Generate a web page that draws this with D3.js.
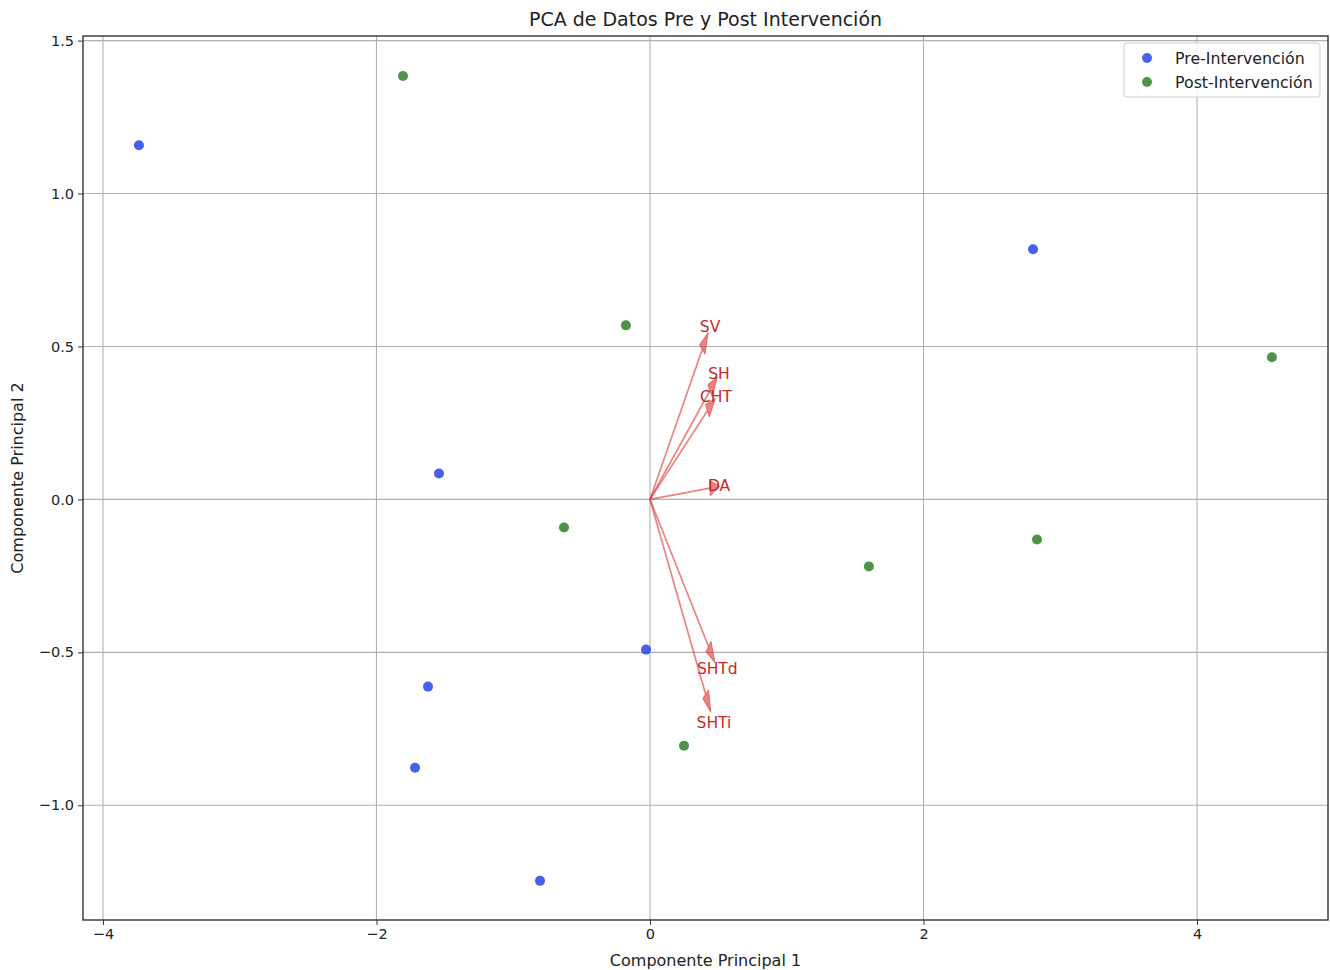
<!DOCTYPE html>
<html>
<head>
<meta charset="utf-8">
<script src="https://cdn.jsdelivr.net/npm/d3@7"></script>
<style>
  body { margin: 0; background: #fff; }
  svg { display: block; font-family: "DejaVu Sans", sans-serif; }
</style>
</head>
<body>
<svg id="chart" width="1330" height="970"></svg>
<script>
// ---- data ----
const preX = [-3.737, -1.543, -1.623, -1.718, -0.804, -0.029, 2.801];
const preY = [1.158, 0.085, -0.612, -0.877, -1.247, -0.491, 0.818];
const postX = [-1.806, -0.176, -0.629, 0.249, 1.601, 2.830, 4.548];
const postY = [1.384, 0.569, -0.092, -0.805, -0.219, -0.131, 0.465];
const loadingNames = ["SV", "SH", "CHT", "DA", "SHTd", "SHTi"];
const loadingX = [0.382, 0.439, 0.420, 0.439, 0.428, 0.407];
const loadingY = [0.490, 0.356, 0.290, 0.037, -0.481, -0.637];
const xTicks = [-4, -2, 0, 2, 4];
const yTicks = [-1.0, -0.5, 0.0, 0.5, 1.0, 1.5];
const legendLabels = ["Pre-Intervención", "Post-Intervención"];

// ---- layout ----
const L = 83, R = 1328, T = 36, B = 920;
const svg = d3.select("#chart");
const x = d3.scaleLinear().domain([-4.146, 4.958]).range([L, R]);
const y = d3.scaleLinear().domain([-1.375, 1.515]).range([B, T]);
const fmtMinus = s => s.replace("-", "\u2212");

// grid
const g = svg.append("g");
g.selectAll("line.gx").data(xTicks).enter().append("line")
  .attr("x1", d => x(d)).attr("x2", d => x(d)).attr("y1", T).attr("y2", B)
  .attr("stroke", "#b0b0b0").attr("stroke-width", 1.1);
g.selectAll("line.gy").data(yTicks).enter().append("line")
  .attr("y1", d => y(d)).attr("y2", d => y(d)).attr("x1", L).attr("x2", R)
  .attr("stroke", "#b0b0b0").attr("stroke-width", 1.1);

// axes
const xAxis = d3.axisBottom(x).tickValues(xTicks).tickSize(5).tickPadding(4)
  .tickFormat(d => fmtMinus(d3.format("d")(d)));
const yAxis = d3.axisLeft(y).tickValues(yTicks).tickSize(5).tickPadding(4)
  .tickFormat(d => fmtMinus(d3.format(".1f")(d)));
const gx = svg.append("g").attr("transform", `translate(0,${B})`).call(xAxis);
const gy = svg.append("g").attr("transform", `translate(${L},0)`).call(yAxis);
[gx, gy].forEach(a => {
  a.select(".domain").remove();
  a.selectAll("text").attr("font-size", 14.5).attr("fill", "#222").attr("font-family", "DejaVu Sans, sans-serif");
  a.selectAll("line").attr("stroke", "#333");
});

// points
const pre = preX.map((v, i) => ({x: v, y: preY[i]}));
const post = postX.map((v, i) => ({x: v, y: postY[i]}));
svg.append("g").selectAll("circle").data(pre).enter().append("circle")
  .attr("cx", d => x(d.x)).attr("cy", d => y(d.y)).attr("r", 5)
  .attr("fill", "#1a3ee8").attr("fill-opacity", 0.82);
svg.append("g").selectAll("circle").data(post).enter().append("circle")
  .attr("cx", d => x(d.x)).attr("cy", d => y(d.y)).attr("r", 5)
  .attr("fill", "#1f7a1a").attr("fill-opacity", 0.8);

// loadings arrows (matplotlib-style, head sized in data units)
const headW = 0.05, headL = 0.07;
const ag = svg.append("g");
loadingNames.forEach((name, i) => {
  const cx = loadingX[i], cy = loadingY[i];
  const len = Math.hypot(cx, cy);
  const ux = cx / len, uy = cy / len;
  const px = -uy, py = ux;
  const tip = [cx + ux * headL, cy + uy * headL];
  const b1 = [cx + px * headW / 2, cy + py * headW / 2];
  const b2 = [cx - px * headW / 2, cy - py * headW / 2];
  ag.append("line")
    .attr("x1", x(0)).attr("y1", y(0)).attr("x2", x(cx)).attr("y2", y(cy))
    .attr("stroke", "#e03030").attr("stroke-opacity", 0.6).attr("stroke-width", 1.7);
  ag.append("path")
    .attr("d", d3.line()([[x(tip[0]), y(tip[1])], [x(b1[0]), y(b1[1])], [x(b2[0]), y(b2[1])]]) + "Z")
    .attr("fill", "#e03030").attr("fill-opacity", 0.6)
    .attr("stroke", "#e03030").attr("stroke-opacity", 0.6).attr("stroke-width", 1);
});
ag.selectAll("text").data(loadingNames).enter().append("text")
  .attr("x", (d, i) => x(loadingX[i] * 1.15))
  .attr("y", (d, i) => y(loadingY[i] * 1.15))
  .attr("text-anchor", "middle").attr("dominant-baseline", "central")
  .attr("font-size", 15.5).attr("fill", "#c42a2a")
  .text(d => d);

// frame
svg.append("rect").attr("x", L).attr("y", T).attr("width", R - L).attr("height", B - T)
  .attr("fill", "none").attr("stroke", "#333").attr("stroke-width", 1.4);

// titles
svg.append("text").attr("x", (L + R) / 2).attr("y", 19).attr("text-anchor", "middle")
  .attr("dominant-baseline", "central").attr("font-size", 19).attr("fill", "#222")
  .text("PCA de Datos Pre y Post Intervención");
svg.append("text").attr("x", (L + R) / 2).attr("y", 960).attr("text-anchor", "middle")
  .attr("dominant-baseline", "central").attr("font-size", 16).attr("fill", "#222")
  .text("Componente Principal 1");
svg.append("text").attr("transform", `translate(17,${(T + B) / 2}) rotate(-90)`)
  .attr("text-anchor", "middle").attr("dominant-baseline", "central")
  .attr("font-size", 16).attr("fill", "#222")
  .text("Componente Principal 2");

// legend
const lg = svg.append("g").attr("transform", "translate(1124,43)");
lg.append("rect").attr("width", 196).attr("height", 54).attr("rx", 3)
  .attr("fill", "#fff").attr("fill-opacity", 0.85).attr("stroke", "#d0d0d0");
const legendColors = ["#1a3ee8", "#1f7a1a"];
legendLabels.forEach((lab, i) => {
  lg.append("circle").attr("cx", 23).attr("cy", 15 + i * 24).attr("r", 5)
    .attr("fill", legendColors[i]).attr("fill-opacity", 0.8);
  lg.append("text").attr("x", 51).attr("y", 15 + i * 24).attr("dominant-baseline", "central")
    .attr("font-size", 15.8).attr("fill", "#222").text(lab);
});
</script>
</body>
</html>
